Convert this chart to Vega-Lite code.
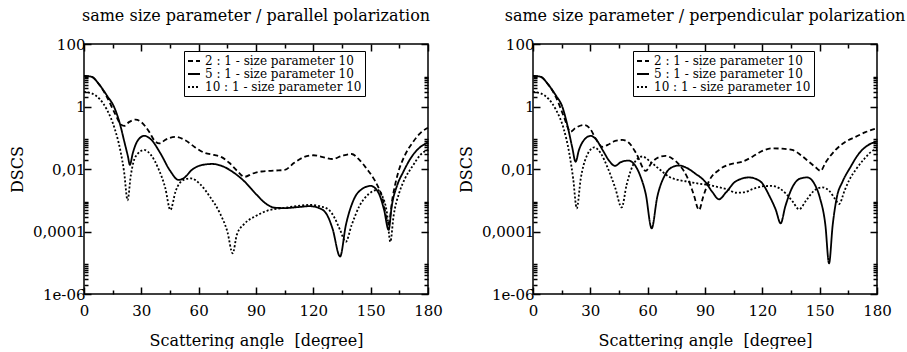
{
  "$schema": "https://vega.github.io/schema/vega-lite/v6.json",
  "background": "white",
  "padding": {"left": 8, "top": 7, "right": 5, "bottom": 0},
  "config": {
    "font": "DejaVu Serif",
    "view": {"stroke": "black", "strokeWidth": 1.5},
    "axis": {"domain": false, "grid": false, "ticks": true, "tickSize": -7, "zindex": 1, "labelFont": "DejaVu Serif", "labelFontSize": 15, "labelColor": "black", "titleFont": "DejaVu Serif", "titleFontSize": 16, "titleFontWeight": "normal", "titleColor": "black", "tickColor": "black", "tickWidth": 1.5, "labelFlush": false, "labelOverlap": false},
    "title": {"font": "DejaVu Serif", "fontSize": 16, "fontWeight": "normal", "color": "black", "offset": 13, "anchor": "middle"},
    "line": {"color": "black", "strokeWidth": 1.8, "interpolate": "monotone"}
  },
  "datasets": {
    "par": [
      {"angle": 0, "dscs": 9.55, "ratio": "5 : 1 - size parameter 10"},
      {"angle": 4, "dscs": 8.91, "ratio": "5 : 1 - size parameter 10"},
      {"angle": 8, "dscs": 5.01, "ratio": "5 : 1 - size parameter 10"},
      {"angle": 12, "dscs": 2.24, "ratio": "5 : 1 - size parameter 10"},
      {"angle": 16, "dscs": 0.891, "ratio": "5 : 1 - size parameter 10"},
      {"angle": 19, "dscs": 0.251, "ratio": "5 : 1 - size parameter 10"},
      {"angle": 21, "dscs": 0.0794, "ratio": "5 : 1 - size parameter 10"},
      {"angle": 23, "dscs": 0.0251, "ratio": "5 : 1 - size parameter 10"},
      {"angle": 24, "dscs": 0.0135, "ratio": "5 : 1 - size parameter 10"},
      {"angle": 25.5, "dscs": 0.0316, "ratio": "5 : 1 - size parameter 10"},
      {"angle": 28, "dscs": 0.0794, "ratio": "5 : 1 - size parameter 10"},
      {"angle": 31.5, "dscs": 0.115, "ratio": "5 : 1 - size parameter 10"},
      {"angle": 35, "dscs": 0.0891, "ratio": "5 : 1 - size parameter 10"},
      {"angle": 40, "dscs": 0.0316, "ratio": "5 : 1 - size parameter 10"},
      {"angle": 45, "dscs": 0.00891, "ratio": "5 : 1 - size parameter 10"},
      {"angle": 49.5, "dscs": 0.00447, "ratio": "5 : 1 - size parameter 10"},
      {"angle": 52, "dscs": 0.00501, "ratio": "5 : 1 - size parameter 10"},
      {"angle": 57, "dscs": 0.01, "ratio": "5 : 1 - size parameter 10"},
      {"angle": 62, "dscs": 0.0135, "ratio": "5 : 1 - size parameter 10"},
      {"angle": 67, "dscs": 0.0145, "ratio": "5 : 1 - size parameter 10"},
      {"angle": 72, "dscs": 0.0126, "ratio": "5 : 1 - size parameter 10"},
      {"angle": 78, "dscs": 0.00794, "ratio": "5 : 1 - size parameter 10"},
      {"angle": 84, "dscs": 0.00398, "ratio": "5 : 1 - size parameter 10"},
      {"angle": 90, "dscs": 0.00158, "ratio": "5 : 1 - size parameter 10"},
      {"angle": 95, "dscs": 0.000794, "ratio": "5 : 1 - size parameter 10"},
      {"angle": 100, "dscs": 0.000575, "ratio": "5 : 1 - size parameter 10"},
      {"angle": 105, "dscs": 0.000562, "ratio": "5 : 1 - size parameter 10"},
      {"angle": 112, "dscs": 0.000603, "ratio": "5 : 1 - size parameter 10"},
      {"angle": 118, "dscs": 0.000646, "ratio": "5 : 1 - size parameter 10"},
      {"angle": 123, "dscs": 0.000562, "ratio": "5 : 1 - size parameter 10"},
      {"angle": 127, "dscs": 0.000355, "ratio": "5 : 1 - size parameter 10"},
      {"angle": 130, "dscs": 0.000126, "ratio": "5 : 1 - size parameter 10"},
      {"angle": 134, "dscs": 0.0000158, "ratio": "5 : 1 - size parameter 10"},
      {"angle": 137, "dscs": 0.000158, "ratio": "5 : 1 - size parameter 10"},
      {"angle": 141, "dscs": 0.001, "ratio": "5 : 1 - size parameter 10"},
      {"angle": 146, "dscs": 0.0024, "ratio": "5 : 1 - size parameter 10"},
      {"angle": 150, "dscs": 0.00288, "ratio": "5 : 1 - size parameter 10"},
      {"angle": 154, "dscs": 0.00178, "ratio": "5 : 1 - size parameter 10"},
      {"angle": 157, "dscs": 0.000501, "ratio": "5 : 1 - size parameter 10"},
      {"angle": 159.4, "dscs": 0.000112, "ratio": "5 : 1 - size parameter 10"},
      {"angle": 161, "dscs": 0.000631, "ratio": "5 : 1 - size parameter 10"},
      {"angle": 164, "dscs": 0.00316, "ratio": "5 : 1 - size parameter 10"},
      {"angle": 167, "dscs": 0.00794, "ratio": "5 : 1 - size parameter 10"},
      {"angle": 171, "dscs": 0.0224, "ratio": "5 : 1 - size parameter 10"},
      {"angle": 175, "dscs": 0.0447, "ratio": "5 : 1 - size parameter 10"},
      {"angle": 180, "dscs": 0.0708, "ratio": "5 : 1 - size parameter 10"},

      {"angle": 0, "dscs": 9.55, "ratio": "2 : 1 - size parameter 10"},
      {"angle": 4, "dscs": 8.91, "ratio": "2 : 1 - size parameter 10"},
      {"angle": 8, "dscs": 5.01, "ratio": "2 : 1 - size parameter 10"},
      {"angle": 12, "dscs": 2.0, "ratio": "2 : 1 - size parameter 10"},
      {"angle": 16, "dscs": 0.631, "ratio": "2 : 1 - size parameter 10"},
      {"angle": 19, "dscs": 0.282, "ratio": "2 : 1 - size parameter 10"},
      {"angle": 21, "dscs": 0.24, "ratio": "2 : 1 - size parameter 10"},
      {"angle": 23.5, "dscs": 0.316, "ratio": "2 : 1 - size parameter 10"},
      {"angle": 27, "dscs": 0.38, "ratio": "2 : 1 - size parameter 10"},
      {"angle": 30, "dscs": 0.316, "ratio": "2 : 1 - size parameter 10"},
      {"angle": 34, "dscs": 0.158, "ratio": "2 : 1 - size parameter 10"},
      {"angle": 37, "dscs": 0.0794, "ratio": "2 : 1 - size parameter 10"},
      {"angle": 39.5, "dscs": 0.0661, "ratio": "2 : 1 - size parameter 10"},
      {"angle": 43, "dscs": 0.0891, "ratio": "2 : 1 - size parameter 10"},
      {"angle": 48, "dscs": 0.107, "ratio": "2 : 1 - size parameter 10"},
      {"angle": 53, "dscs": 0.0832, "ratio": "2 : 1 - size parameter 10"},
      {"angle": 58, "dscs": 0.0501, "ratio": "2 : 1 - size parameter 10"},
      {"angle": 63, "dscs": 0.0331, "ratio": "2 : 1 - size parameter 10"},
      {"angle": 68, "dscs": 0.0282, "ratio": "2 : 1 - size parameter 10"},
      {"angle": 72, "dscs": 0.024, "ratio": "2 : 1 - size parameter 10"},
      {"angle": 76, "dscs": 0.0158, "ratio": "2 : 1 - size parameter 10"},
      {"angle": 80, "dscs": 0.00891, "ratio": "2 : 1 - size parameter 10"},
      {"angle": 84, "dscs": 0.00562, "ratio": "2 : 1 - size parameter 10"},
      {"angle": 88, "dscs": 0.00708, "ratio": "2 : 1 - size parameter 10"},
      {"angle": 93, "dscs": 0.00832, "ratio": "2 : 1 - size parameter 10"},
      {"angle": 100, "dscs": 0.00891, "ratio": "2 : 1 - size parameter 10"},
      {"angle": 105, "dscs": 0.00933, "ratio": "2 : 1 - size parameter 10"},
      {"angle": 110, "dscs": 0.0158, "ratio": "2 : 1 - size parameter 10"},
      {"angle": 115, "dscs": 0.024, "ratio": "2 : 1 - size parameter 10"},
      {"angle": 120, "dscs": 0.0275, "ratio": "2 : 1 - size parameter 10"},
      {"angle": 125, "dscs": 0.024, "ratio": "2 : 1 - size parameter 10"},
      {"angle": 130, "dscs": 0.0209, "ratio": "2 : 1 - size parameter 10"},
      {"angle": 135, "dscs": 0.0263, "ratio": "2 : 1 - size parameter 10"},
      {"angle": 140, "dscs": 0.0302, "ratio": "2 : 1 - size parameter 10"},
      {"angle": 144, "dscs": 0.02, "ratio": "2 : 1 - size parameter 10"},
      {"angle": 148, "dscs": 0.01, "ratio": "2 : 1 - size parameter 10"},
      {"angle": 152, "dscs": 0.00447, "ratio": "2 : 1 - size parameter 10"},
      {"angle": 156, "dscs": 0.00126, "ratio": "2 : 1 - size parameter 10"},
      {"angle": 159.4, "dscs": 0.000182, "ratio": "2 : 1 - size parameter 10"},
      {"angle": 161.5, "dscs": 0.00126, "ratio": "2 : 1 - size parameter 10"},
      {"angle": 164, "dscs": 0.00631, "ratio": "2 : 1 - size parameter 10"},
      {"angle": 168, "dscs": 0.0282, "ratio": "2 : 1 - size parameter 10"},
      {"angle": 172, "dscs": 0.0708, "ratio": "2 : 1 - size parameter 10"},
      {"angle": 176, "dscs": 0.141, "ratio": "2 : 1 - size parameter 10"},
      {"angle": 180, "dscs": 0.209, "ratio": "2 : 1 - size parameter 10"},

      {"angle": 0, "dscs": 2.95, "ratio": "10 : 1 - size parameter 10"},
      {"angle": 4, "dscs": 2.63, "ratio": "10 : 1 - size parameter 10"},
      {"angle": 8, "dscs": 1.78, "ratio": "10 : 1 - size parameter 10"},
      {"angle": 12, "dscs": 0.794, "ratio": "10 : 1 - size parameter 10"},
      {"angle": 16, "dscs": 0.2, "ratio": "10 : 1 - size parameter 10"},
      {"angle": 19, "dscs": 0.0398, "ratio": "10 : 1 - size parameter 10"},
      {"angle": 21, "dscs": 0.00794, "ratio": "10 : 1 - size parameter 10"},
      {"angle": 22.8, "dscs": 0.001, "ratio": "10 : 1 - size parameter 10"},
      {"angle": 24.5, "dscs": 0.00631, "ratio": "10 : 1 - size parameter 10"},
      {"angle": 27, "dscs": 0.0251, "ratio": "10 : 1 - size parameter 10"},
      {"angle": 31.5, "dscs": 0.0407, "ratio": "10 : 1 - size parameter 10"},
      {"angle": 35, "dscs": 0.0282, "ratio": "10 : 1 - size parameter 10"},
      {"angle": 39, "dscs": 0.01, "ratio": "10 : 1 - size parameter 10"},
      {"angle": 42.5, "dscs": 0.00251, "ratio": "10 : 1 - size parameter 10"},
      {"angle": 45.2, "dscs": 0.00049, "ratio": "10 : 1 - size parameter 10"},
      {"angle": 48, "dscs": 0.002, "ratio": "10 : 1 - size parameter 10"},
      {"angle": 52, "dscs": 0.00447, "ratio": "10 : 1 - size parameter 10"},
      {"angle": 56, "dscs": 0.00501, "ratio": "10 : 1 - size parameter 10"},
      {"angle": 61, "dscs": 0.00316, "ratio": "10 : 1 - size parameter 10"},
      {"angle": 66, "dscs": 0.00126, "ratio": "10 : 1 - size parameter 10"},
      {"angle": 71, "dscs": 0.000398, "ratio": "10 : 1 - size parameter 10"},
      {"angle": 75, "dscs": 0.0001, "ratio": "10 : 1 - size parameter 10"},
      {"angle": 77.8, "dscs": 0.00002, "ratio": "10 : 1 - size parameter 10"},
      {"angle": 80, "dscs": 0.0000794, "ratio": "10 : 1 - size parameter 10"},
      {"angle": 84, "dscs": 0.000178, "ratio": "10 : 1 - size parameter 10"},
      {"angle": 90, "dscs": 0.000316, "ratio": "10 : 1 - size parameter 10"},
      {"angle": 96, "dscs": 0.000468, "ratio": "10 : 1 - size parameter 10"},
      {"angle": 103, "dscs": 0.00055, "ratio": "10 : 1 - size parameter 10"},
      {"angle": 110, "dscs": 0.000631, "ratio": "10 : 1 - size parameter 10"},
      {"angle": 118, "dscs": 0.000708, "ratio": "10 : 1 - size parameter 10"},
      {"angle": 124, "dscs": 0.000631, "ratio": "10 : 1 - size parameter 10"},
      {"angle": 128, "dscs": 0.000501, "ratio": "10 : 1 - size parameter 10"},
      {"angle": 131, "dscs": 0.000282, "ratio": "10 : 1 - size parameter 10"},
      {"angle": 134, "dscs": 0.000112, "ratio": "10 : 1 - size parameter 10"},
      {"angle": 137, "dscs": 0.0000468, "ratio": "10 : 1 - size parameter 10"},
      {"angle": 140, "dscs": 0.000158, "ratio": "10 : 1 - size parameter 10"},
      {"angle": 144, "dscs": 0.000631, "ratio": "10 : 1 - size parameter 10"},
      {"angle": 149, "dscs": 0.00158, "ratio": "10 : 1 - size parameter 10"},
      {"angle": 153.6, "dscs": 0.00214, "ratio": "10 : 1 - size parameter 10"},
      {"angle": 156, "dscs": 0.00141, "ratio": "10 : 1 - size parameter 10"},
      {"angle": 158.5, "dscs": 0.000398, "ratio": "10 : 1 - size parameter 10"},
      {"angle": 160.3, "dscs": 0.0000468, "ratio": "10 : 1 - size parameter 10"},
      {"angle": 162, "dscs": 0.000316, "ratio": "10 : 1 - size parameter 10"},
      {"angle": 165, "dscs": 0.00178, "ratio": "10 : 1 - size parameter 10"},
      {"angle": 168, "dscs": 0.00501, "ratio": "10 : 1 - size parameter 10"},
      {"angle": 172, "dscs": 0.0126, "ratio": "10 : 1 - size parameter 10"},
      {"angle": 176, "dscs": 0.0282, "ratio": "10 : 1 - size parameter 10"},
      {"angle": 180, "dscs": 0.0417, "ratio": "10 : 1 - size parameter 10"}
    ],
    "perp": [
      {"angle": 0, "dscs": 9.55, "ratio": "5 : 1 - size parameter 10"},
      {"angle": 4, "dscs": 8.91, "ratio": "5 : 1 - size parameter 10"},
      {"angle": 8, "dscs": 5.01, "ratio": "5 : 1 - size parameter 10"},
      {"angle": 12, "dscs": 2.24, "ratio": "5 : 1 - size parameter 10"},
      {"angle": 15.3, "dscs": 1.0, "ratio": "5 : 1 - size parameter 10"},
      {"angle": 18, "dscs": 0.251, "ratio": "5 : 1 - size parameter 10"},
      {"angle": 20.5, "dscs": 0.0501, "ratio": "5 : 1 - size parameter 10"},
      {"angle": 22.3, "dscs": 0.017, "ratio": "5 : 1 - size parameter 10"},
      {"angle": 24, "dscs": 0.0398, "ratio": "5 : 1 - size parameter 10"},
      {"angle": 27, "dscs": 0.0891, "ratio": "5 : 1 - size parameter 10"},
      {"angle": 30.2, "dscs": 0.115, "ratio": "5 : 1 - size parameter 10"},
      {"angle": 33, "dscs": 0.0891, "ratio": "5 : 1 - size parameter 10"},
      {"angle": 36.5, "dscs": 0.0398, "ratio": "5 : 1 - size parameter 10"},
      {"angle": 40, "dscs": 0.0178, "ratio": "5 : 1 - size parameter 10"},
      {"angle": 42.9, "dscs": 0.0126, "ratio": "5 : 1 - size parameter 10"},
      {"angle": 46, "dscs": 0.0166, "ratio": "5 : 1 - size parameter 10"},
      {"angle": 49.9, "dscs": 0.0186, "ratio": "5 : 1 - size parameter 10"},
      {"angle": 53, "dscs": 0.0141, "ratio": "5 : 1 - size parameter 10"},
      {"angle": 56, "dscs": 0.00631, "ratio": "5 : 1 - size parameter 10"},
      {"angle": 59, "dscs": 0.00158, "ratio": "5 : 1 - size parameter 10"},
      {"angle": 62.1, "dscs": 0.000126, "ratio": "5 : 1 - size parameter 10"},
      {"angle": 65, "dscs": 0.00126, "ratio": "5 : 1 - size parameter 10"},
      {"angle": 69, "dscs": 0.00631, "ratio": "5 : 1 - size parameter 10"},
      {"angle": 72.5, "dscs": 0.0112, "ratio": "5 : 1 - size parameter 10"},
      {"angle": 76.4, "dscs": 0.0129, "ratio": "5 : 1 - size parameter 10"},
      {"angle": 80, "dscs": 0.0112, "ratio": "5 : 1 - size parameter 10"},
      {"angle": 85, "dscs": 0.00708, "ratio": "5 : 1 - size parameter 10"},
      {"angle": 90, "dscs": 0.00398, "ratio": "5 : 1 - size parameter 10"},
      {"angle": 94, "dscs": 0.00178, "ratio": "5 : 1 - size parameter 10"},
      {"angle": 97.3, "dscs": 0.00107, "ratio": "5 : 1 - size parameter 10"},
      {"angle": 101, "dscs": 0.00178, "ratio": "5 : 1 - size parameter 10"},
      {"angle": 106, "dscs": 0.00398, "ratio": "5 : 1 - size parameter 10"},
      {"angle": 113, "dscs": 0.00537, "ratio": "5 : 1 - size parameter 10"},
      {"angle": 119, "dscs": 0.00398, "ratio": "5 : 1 - size parameter 10"},
      {"angle": 124, "dscs": 0.00126, "ratio": "5 : 1 - size parameter 10"},
      {"angle": 127, "dscs": 0.000501, "ratio": "5 : 1 - size parameter 10"},
      {"angle": 129.6, "dscs": 0.000182, "ratio": "5 : 1 - size parameter 10"},
      {"angle": 132, "dscs": 0.000631, "ratio": "5 : 1 - size parameter 10"},
      {"angle": 136, "dscs": 0.00282, "ratio": "5 : 1 - size parameter 10"},
      {"angle": 140, "dscs": 0.00501, "ratio": "5 : 1 - size parameter 10"},
      {"angle": 143.5, "dscs": 0.00537, "ratio": "5 : 1 - size parameter 10"},
      {"angle": 147, "dscs": 0.00355, "ratio": "5 : 1 - size parameter 10"},
      {"angle": 150, "dscs": 0.00126, "ratio": "5 : 1 - size parameter 10"},
      {"angle": 153, "dscs": 0.000158, "ratio": "5 : 1 - size parameter 10"},
      {"angle": 154.9, "dscs": 0.00000955, "ratio": "5 : 1 - size parameter 10"},
      {"angle": 156.8, "dscs": 0.000158, "ratio": "5 : 1 - size parameter 10"},
      {"angle": 159, "dscs": 0.00126, "ratio": "5 : 1 - size parameter 10"},
      {"angle": 162, "dscs": 0.00398, "ratio": "5 : 1 - size parameter 10"},
      {"angle": 166, "dscs": 0.0112, "ratio": "5 : 1 - size parameter 10"},
      {"angle": 170.6, "dscs": 0.0316, "ratio": "5 : 1 - size parameter 10"},
      {"angle": 175, "dscs": 0.0562, "ratio": "5 : 1 - size parameter 10"},
      {"angle": 180, "dscs": 0.0759, "ratio": "5 : 1 - size parameter 10"},

      {"angle": 0, "dscs": 9.55, "ratio": "2 : 1 - size parameter 10"},
      {"angle": 4, "dscs": 8.91, "ratio": "2 : 1 - size parameter 10"},
      {"angle": 8, "dscs": 5.01, "ratio": "2 : 1 - size parameter 10"},
      {"angle": 12, "dscs": 2.0, "ratio": "2 : 1 - size parameter 10"},
      {"angle": 16, "dscs": 0.501, "ratio": "2 : 1 - size parameter 10"},
      {"angle": 19.7, "dscs": 0.155, "ratio": "2 : 1 - size parameter 10"},
      {"angle": 22, "dscs": 0.2, "ratio": "2 : 1 - size parameter 10"},
      {"angle": 26.7, "dscs": 0.257, "ratio": "2 : 1 - size parameter 10"},
      {"angle": 30, "dscs": 0.191, "ratio": "2 : 1 - size parameter 10"},
      {"angle": 33, "dscs": 0.0891, "ratio": "2 : 1 - size parameter 10"},
      {"angle": 36.3, "dscs": 0.0513, "ratio": "2 : 1 - size parameter 10"},
      {"angle": 40, "dscs": 0.0631, "ratio": "2 : 1 - size parameter 10"},
      {"angle": 43, "dscs": 0.0794, "ratio": "2 : 1 - size parameter 10"},
      {"angle": 46.7, "dscs": 0.0851, "ratio": "2 : 1 - size parameter 10"},
      {"angle": 50, "dscs": 0.0708, "ratio": "2 : 1 - size parameter 10"},
      {"angle": 54, "dscs": 0.0316, "ratio": "2 : 1 - size parameter 10"},
      {"angle": 59, "dscs": 0.00871, "ratio": "2 : 1 - size parameter 10"},
      {"angle": 62, "dscs": 0.0158, "ratio": "2 : 1 - size parameter 10"},
      {"angle": 66, "dscs": 0.024, "ratio": "2 : 1 - size parameter 10"},
      {"angle": 69.4, "dscs": 0.0263, "ratio": "2 : 1 - size parameter 10"},
      {"angle": 73, "dscs": 0.0214, "ratio": "2 : 1 - size parameter 10"},
      {"angle": 77, "dscs": 0.0126, "ratio": "2 : 1 - size parameter 10"},
      {"angle": 81, "dscs": 0.00501, "ratio": "2 : 1 - size parameter 10"},
      {"angle": 84, "dscs": 0.00158, "ratio": "2 : 1 - size parameter 10"},
      {"angle": 86.9, "dscs": 0.00049, "ratio": "2 : 1 - size parameter 10"},
      {"angle": 89, "dscs": 0.00126, "ratio": "2 : 1 - size parameter 10"},
      {"angle": 92, "dscs": 0.00398, "ratio": "2 : 1 - size parameter 10"},
      {"angle": 97.3, "dscs": 0.00933, "ratio": "2 : 1 - size parameter 10"},
      {"angle": 103, "dscs": 0.0141, "ratio": "2 : 1 - size parameter 10"},
      {"angle": 109.5, "dscs": 0.017, "ratio": "2 : 1 - size parameter 10"},
      {"angle": 115, "dscs": 0.0251, "ratio": "2 : 1 - size parameter 10"},
      {"angle": 120, "dscs": 0.038, "ratio": "2 : 1 - size parameter 10"},
      {"angle": 125.2, "dscs": 0.0457, "ratio": "2 : 1 - size parameter 10"},
      {"angle": 130, "dscs": 0.0447, "ratio": "2 : 1 - size parameter 10"},
      {"angle": 135.6, "dscs": 0.0407, "ratio": "2 : 1 - size parameter 10"},
      {"angle": 140, "dscs": 0.0282, "ratio": "2 : 1 - size parameter 10"},
      {"angle": 144.4, "dscs": 0.017, "ratio": "2 : 1 - size parameter 10"},
      {"angle": 148, "dscs": 0.0112, "ratio": "2 : 1 - size parameter 10"},
      {"angle": 150.5, "dscs": 0.00871, "ratio": "2 : 1 - size parameter 10"},
      {"angle": 153, "dscs": 0.0158, "ratio": "2 : 1 - size parameter 10"},
      {"angle": 158.3, "dscs": 0.0407, "ratio": "2 : 1 - size parameter 10"},
      {"angle": 163, "dscs": 0.0708, "ratio": "2 : 1 - size parameter 10"},
      {"angle": 168.8, "dscs": 0.107, "ratio": "2 : 1 - size parameter 10"},
      {"angle": 174, "dscs": 0.151, "ratio": "2 : 1 - size parameter 10"},
      {"angle": 180, "dscs": 0.2, "ratio": "2 : 1 - size parameter 10"},

      {"angle": 0, "dscs": 2.95, "ratio": "10 : 1 - size parameter 10"},
      {"angle": 4, "dscs": 2.63, "ratio": "10 : 1 - size parameter 10"},
      {"angle": 8, "dscs": 1.78, "ratio": "10 : 1 - size parameter 10"},
      {"angle": 12, "dscs": 0.794, "ratio": "10 : 1 - size parameter 10"},
      {"angle": 16, "dscs": 0.2, "ratio": "10 : 1 - size parameter 10"},
      {"angle": 19, "dscs": 0.0316, "ratio": "10 : 1 - size parameter 10"},
      {"angle": 21, "dscs": 0.00501, "ratio": "10 : 1 - size parameter 10"},
      {"angle": 22.9, "dscs": 0.00055, "ratio": "10 : 1 - size parameter 10"},
      {"angle": 25, "dscs": 0.00501, "ratio": "10 : 1 - size parameter 10"},
      {"angle": 28, "dscs": 0.0251, "ratio": "10 : 1 - size parameter 10"},
      {"angle": 32, "dscs": 0.049, "ratio": "10 : 1 - size parameter 10"},
      {"angle": 35.5, "dscs": 0.0316, "ratio": "10 : 1 - size parameter 10"},
      {"angle": 39, "dscs": 0.0112, "ratio": "10 : 1 - size parameter 10"},
      {"angle": 43, "dscs": 0.00251, "ratio": "10 : 1 - size parameter 10"},
      {"angle": 46.4, "dscs": 0.000589, "ratio": "10 : 1 - size parameter 10"},
      {"angle": 49, "dscs": 0.00316, "ratio": "10 : 1 - size parameter 10"},
      {"angle": 53, "dscs": 0.0158, "ratio": "10 : 1 - size parameter 10"},
      {"angle": 57.2, "dscs": 0.0251, "ratio": "10 : 1 - size parameter 10"},
      {"angle": 62, "dscs": 0.0158, "ratio": "10 : 1 - size parameter 10"},
      {"angle": 67, "dscs": 0.00891, "ratio": "10 : 1 - size parameter 10"},
      {"angle": 71.2, "dscs": 0.00562, "ratio": "10 : 1 - size parameter 10"},
      {"angle": 76, "dscs": 0.00447, "ratio": "10 : 1 - size parameter 10"},
      {"angle": 81.6, "dscs": 0.00389, "ratio": "10 : 1 - size parameter 10"},
      {"angle": 87, "dscs": 0.00339, "ratio": "10 : 1 - size parameter 10"},
      {"angle": 92.1, "dscs": 0.00309, "ratio": "10 : 1 - size parameter 10"},
      {"angle": 97, "dscs": 0.00263, "ratio": "10 : 1 - size parameter 10"},
      {"angle": 102.6, "dscs": 0.00214, "ratio": "10 : 1 - size parameter 10"},
      {"angle": 106, "dscs": 0.00174, "ratio": "10 : 1 - size parameter 10"},
      {"angle": 110, "dscs": 0.00178, "ratio": "10 : 1 - size parameter 10"},
      {"angle": 116, "dscs": 0.0024, "ratio": "10 : 1 - size parameter 10"},
      {"angle": 121, "dscs": 0.00282, "ratio": "10 : 1 - size parameter 10"},
      {"angle": 125.2, "dscs": 0.00288, "ratio": "10 : 1 - size parameter 10"},
      {"angle": 129, "dscs": 0.0024, "ratio": "10 : 1 - size parameter 10"},
      {"angle": 132.2, "dscs": 0.00166, "ratio": "10 : 1 - size parameter 10"},
      {"angle": 136, "dscs": 0.000891, "ratio": "10 : 1 - size parameter 10"},
      {"angle": 139.2, "dscs": 0.000513, "ratio": "10 : 1 - size parameter 10"},
      {"angle": 143, "dscs": 0.001, "ratio": "10 : 1 - size parameter 10"},
      {"angle": 147, "dscs": 0.002, "ratio": "10 : 1 - size parameter 10"},
      {"angle": 151.4, "dscs": 0.00257, "ratio": "10 : 1 - size parameter 10"},
      {"angle": 155, "dscs": 0.002, "ratio": "10 : 1 - size parameter 10"},
      {"angle": 158, "dscs": 0.00112, "ratio": "10 : 1 - size parameter 10"},
      {"angle": 160.2, "dscs": 0.000759, "ratio": "10 : 1 - size parameter 10"},
      {"angle": 163, "dscs": 0.002, "ratio": "10 : 1 - size parameter 10"},
      {"angle": 165.5, "dscs": 0.00447, "ratio": "10 : 1 - size parameter 10"},
      {"angle": 168.8, "dscs": 0.00933, "ratio": "10 : 1 - size parameter 10"},
      {"angle": 173, "dscs": 0.02, "ratio": "10 : 1 - size parameter 10"},
      {"angle": 178.4, "dscs": 0.0407, "ratio": "10 : 1 - size parameter 10"},
      {"angle": 180, "dscs": 0.0437, "ratio": "10 : 1 - size parameter 10"}
    ]
  },
  "bounds": "flush",
  "spacing": 105,
  "resolve": {"scale": {"strokeDash": "independent"}, "legend": {"strokeDash": "independent"}},
  "hconcat": [
    {
      "width": 344, "height": 250,
      "title": {"text": "same size parameter / parallel polarization"},
      "data": {"name": "par"},
      "resolve": {"axis": {"x": "independent", "y": "independent"}},
      "layer": [
        {
          "mark": {"type": "line"},
          "encoding": {
            "x": {"field": "angle", "type": "quantitative", "scale": {"domain": [0, 180], "nice": false},
              "axis": {"orient": "bottom", "values": [0,15,30,45,60,75,90,105,120,135,150,165,180],
                "tickDash": {"condition": {"test": "datum.value % 30 === 0", "value": [7, 0]}, "value": [4, 20]},
                "labelExpr": "datum.value % 30 === 0 ? datum.label : ''", "labelPadding": 16,
                "title": "Scattering angle \u00a0[degree]", "titlePadding": 14}},
            "y": {"field": "dscs", "type": "quantitative", "scale": {"type": "log", "domain": [0.000001, 100], "nice": false},
              "axis": {"orient": "left", "values": [0.000001,0.000002,0.000003,0.000004,0.000005,0.000006,0.000007,0.000008,0.000009,0.0001,0.0002,0.0003,0.0004,0.0005,0.0006,0.0007,0.0008,0.0009,0.01,0.02,0.03,0.04,0.05,0.06,0.07,0.08,0.09,1,2,3,4,5,6,7,8,9,100],
                "tickDash": {"condition": {"test": "abs(log(datum.value)/LN10 - round(log(datum.value)/LN10)) < 0.001", "value": [7, 0]}, "value": [4, 20]},
                "labelExpr": "abs(log(datum.value)/LN10 - round(log(datum.value)/LN10)) < 0.001 ? (datum.value >= 1 ? format(datum.value, 'd') : datum.value > 0.005 ? '0,01' : datum.value > 0.00005 ? '0,0001' : '1e-06') : ''",
                "labelPadding": 6, "title": "DSCS", "titlePadding": 7}},
            "strokeDash": {"field": "ratio", "type": "nominal",
              "scale": {"domain": ["2 : 1 - size parameter 10", "5 : 1 - size parameter 10", "10 : 1 - size parameter 10"], "range": [[5, 3], [1, 0], [2, 2]]},
              "legend": {"title": null, "orient": "none", "legendX": 100, "legendY": 7, "strokeColor": "black", "fillColor": "white", "padding": 3, "symbolType": "stroke", "symbolStrokeColor": "black", "symbolStrokeWidth": 1.8, "symbolSize": 144, "labelFont": "DejaVu Serif", "labelFontSize": 12, "labelColor": "black", "rowPadding": 0, "labelOffset": 4, "labelLimit": 300}}
          }
        },
        {
          "mark": {"type": "line", "opacity": 0},
          "encoding": {
            "x": {"field": "angle", "type": "quantitative",
              "axis": {"orient": "top", "values": [0,15,30,45,60,75,90,105,120,135,150,165,180],
                "tickDash": {"condition": {"test": "datum.value % 30 === 0", "value": [7, 0]}, "value": [4, 20]},
                "labels": false, "title": null}},
            "y": {"field": "dscs", "type": "quantitative",
              "axis": {"orient": "right", "values": [0.000001,0.000002,0.000003,0.000004,0.000005,0.000006,0.000007,0.000008,0.000009,0.0001,0.0002,0.0003,0.0004,0.0005,0.0006,0.0007,0.0008,0.0009,0.01,0.02,0.03,0.04,0.05,0.06,0.07,0.08,0.09,1,2,3,4,5,6,7,8,9,100],
                "tickDash": {"condition": {"test": "abs(log(datum.value)/LN10 - round(log(datum.value)/LN10)) < 0.001", "value": [7, 0]}, "value": [4, 20]},
                "labels": false, "title": null}},
            "detail": {"field": "ratio"}
          }
        }
      ]
    },
    {
      "width": 344, "height": 250,
      "title": {"text": "same size parameter / perpendicular polarization"},
      "data": {"name": "perp"},
      "resolve": {"axis": {"x": "independent", "y": "independent"}},
      "layer": [
        {
          "mark": {"type": "line"},
          "encoding": {
            "x": {"field": "angle", "type": "quantitative", "scale": {"domain": [0, 180], "nice": false},
              "axis": {"orient": "bottom", "values": [0,15,30,45,60,75,90,105,120,135,150,165,180],
                "tickDash": {"condition": {"test": "datum.value % 30 === 0", "value": [7, 0]}, "value": [4, 20]},
                "labelExpr": "datum.value % 30 === 0 ? datum.label : ''", "labelPadding": 16,
                "title": "Scattering angle \u00a0[degree]", "titlePadding": 14}},
            "y": {"field": "dscs", "type": "quantitative", "scale": {"type": "log", "domain": [0.000001, 100], "nice": false},
              "axis": {"orient": "left", "values": [0.000001,0.000002,0.000003,0.000004,0.000005,0.000006,0.000007,0.000008,0.000009,0.0001,0.0002,0.0003,0.0004,0.0005,0.0006,0.0007,0.0008,0.0009,0.01,0.02,0.03,0.04,0.05,0.06,0.07,0.08,0.09,1,2,3,4,5,6,7,8,9,100],
                "tickDash": {"condition": {"test": "abs(log(datum.value)/LN10 - round(log(datum.value)/LN10)) < 0.001", "value": [7, 0]}, "value": [4, 20]},
                "labelExpr": "abs(log(datum.value)/LN10 - round(log(datum.value)/LN10)) < 0.001 ? (datum.value >= 1 ? format(datum.value, 'd') : datum.value > 0.005 ? '0,01' : datum.value > 0.00005 ? '0,0001' : '1e-06') : ''",
                "labelPadding": 6, "title": "DSCS", "titlePadding": 7}},
            "strokeDash": {"field": "ratio", "type": "nominal",
              "scale": {"domain": ["2 : 1 - size parameter 10", "5 : 1 - size parameter 10", "10 : 1 - size parameter 10"], "range": [[5, 3], [1, 0], [2, 2]]},
              "legend": {"title": null, "orient": "none", "legendX": 100, "legendY": 7, "strokeColor": "black", "fillColor": "white", "padding": 3, "symbolType": "stroke", "symbolStrokeColor": "black", "symbolStrokeWidth": 1.8, "symbolSize": 144, "labelFont": "DejaVu Serif", "labelFontSize": 12, "labelColor": "black", "rowPadding": 0, "labelOffset": 4, "labelLimit": 300}}
          }
        },
        {
          "mark": {"type": "line", "opacity": 0},
          "encoding": {
            "x": {"field": "angle", "type": "quantitative",
              "axis": {"orient": "top", "values": [0,15,30,45,60,75,90,105,120,135,150,165,180],
                "tickDash": {"condition": {"test": "datum.value % 30 === 0", "value": [7, 0]}, "value": [4, 20]},
                "labels": false, "title": null}},
            "y": {"field": "dscs", "type": "quantitative",
              "axis": {"orient": "right", "values": [0.000001,0.000002,0.000003,0.000004,0.000005,0.000006,0.000007,0.000008,0.000009,0.0001,0.0002,0.0003,0.0004,0.0005,0.0006,0.0007,0.0008,0.0009,0.01,0.02,0.03,0.04,0.05,0.06,0.07,0.08,0.09,1,2,3,4,5,6,7,8,9,100],
                "tickDash": {"condition": {"test": "abs(log(datum.value)/LN10 - round(log(datum.value)/LN10)) < 0.001", "value": [7, 0]}, "value": [4, 20]},
                "labels": false, "title": null}},
            "detail": {"field": "ratio"}
          }
        }
      ]
    }
  ]
}
